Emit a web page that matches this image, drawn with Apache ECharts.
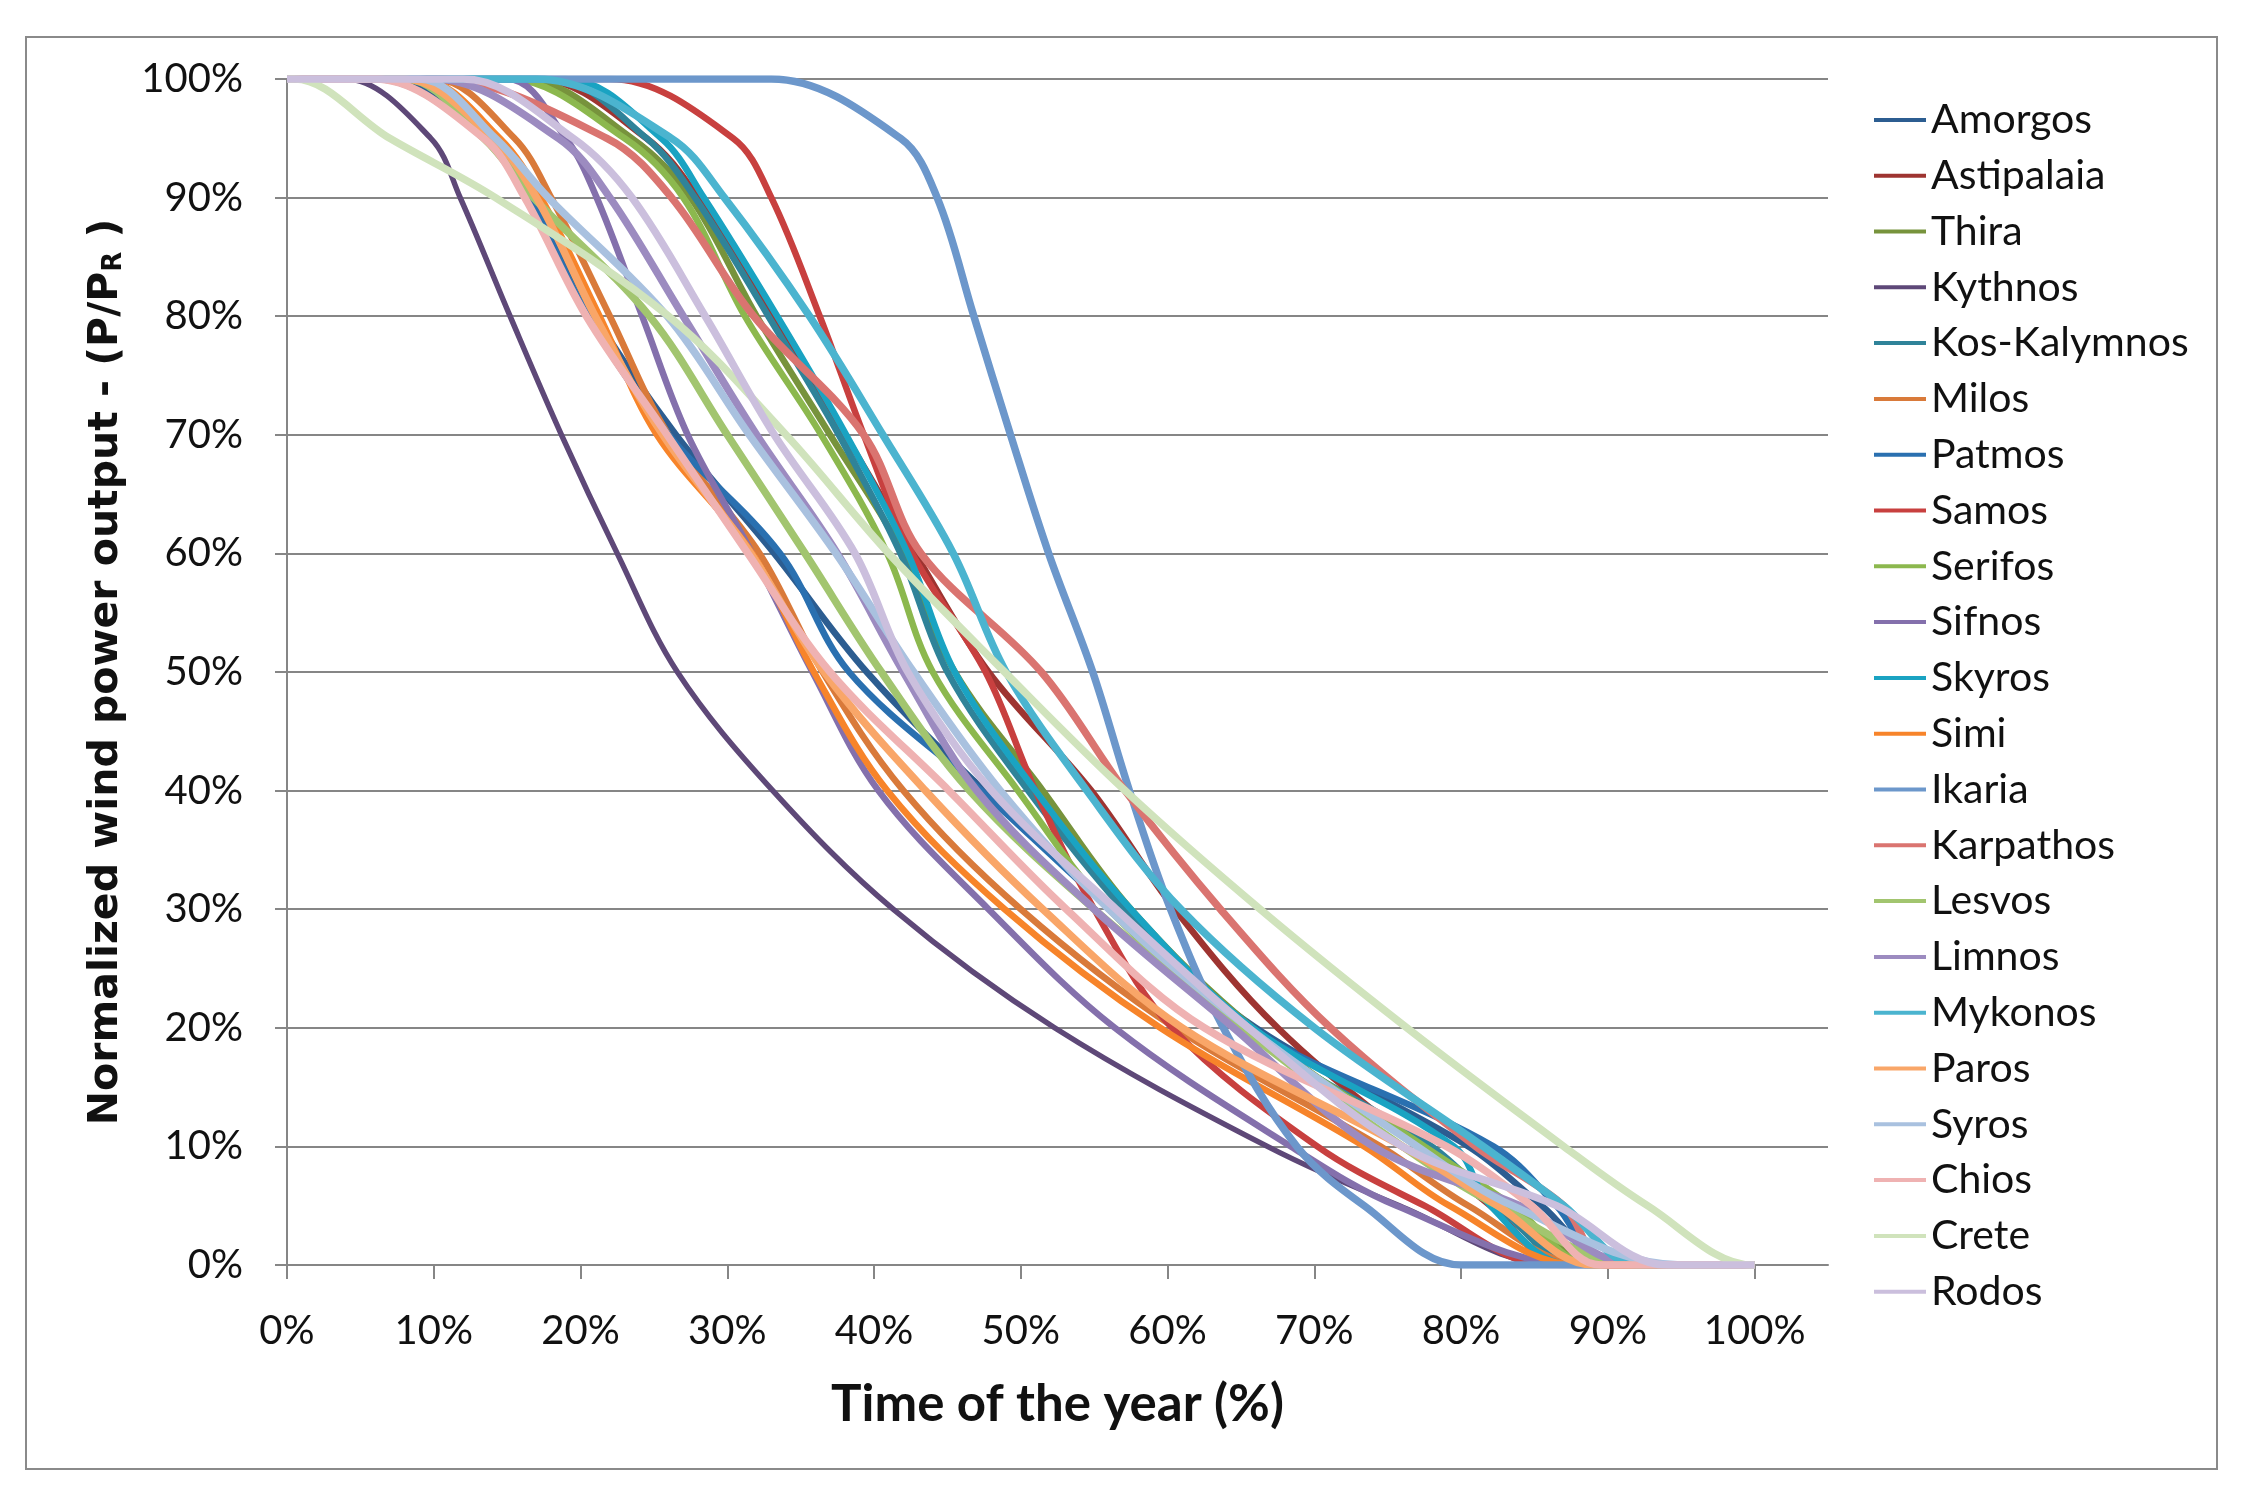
<!DOCTYPE html>
<html>
<head>
<meta charset="utf-8">
<script src="https://cdn.jsdelivr.net/npm/echarts@6/dist/echarts.min.js"></script>
<style>
  html, body { margin: 0; padding: 0; background: #ffffff; }
  #chart { width: 2243px; height: 1494px; }
</style>
</head>
<body>
<div id="chart"></div>
<script>
const LEVELS = [100, 95, 90, 80, 70, 60, 50, 40, 30, 20, 10, 5, 0];
// Time of year (%) at which each island's curve crosses the LEVELS above
const amorgos     = [7, 13.8, 16.8, 21, 26.5, 33.2, 39.5, 47.5, 56.5, 66, 80.5, 85.5, 90.5];
const astipalaia  = [17, 24.5, 28, 33, 38, 42.8, 47.8, 54.8, 60.5, 67.5, 77, 82, 87];
const thira       = [16, 23.5, 27.5, 32, 37, 42, 45.5, 51.5, 57.5, 65.8, 77, 83, 90];
const kythnos     = [4, 9.8, 11.8, 15.2, 18.7, 22.5, 26.6, 33.1, 41.3, 52.3, 66.8, 75.8, 86.5];
const kosKalymnos = [18, 24.5, 27.8, 32.8, 37.6, 41.8, 45, 50.5, 57, 65, 78, 82.5, 88];
const milos       = [10, 15.5, 18, 22, 26, 32.2, 36.5, 42, 50, 60.5, 74.5, 80.5, 88.5];
const patmos      = [6, 13.5, 16.5, 20.5, 26, 33.6, 38.3, 47.3, 56.1, 65.5, 82.2, 86.5, 90];
const samos       = [22, 30.4, 33, 36.3, 39.3, 42.6, 47.6, 51, 55, 60.3, 70.2, 77.5, 86];
const serifos     = [15, 23, 27, 31.2, 36.4, 40.9, 44, 49.8, 56, 65.3, 77.5, 83.5, 89];
const sifnos      = [15, 19, 21.1, 24.2, 27.3, 31.7, 35.8, 40.3, 47.8, 56.4, 68.4, 75.6, 88];
const skyros      = [19, 25.5, 28.4, 33.4, 38.1, 42.3, 45.5, 51, 57.5, 65.8, 79.5, 82, 87.5];
const simi        = [9, 14.5, 17.3, 21.3, 25.2, 31.7, 35.9, 40.9, 48.9, 59.5, 73.4, 79.2, 88];
const ikaria      = [33, 41.8, 44.3, 46.8, 49.3, 51.9, 54.9, 57.4, 60.2, 63.8, 68.8, 73.4, 80];
const karpathos   = [10, 21.8, 26.2, 31.8, 39.3, 43.2, 51.4, 57.1, 63.6, 71.1, 81, 87, 90];
const lesvos      = [8, 13.4, 16.8, 24.7, 30, 35.3, 40.5, 46.5, 55, 65, 76, 82.5, 92];
const limnos      = [10, 18.5, 22, 27, 32, 37.5, 42, 47, 55, 64.5, 74, 84, 92];
const mykonos     = [17, 26.2, 29.8, 35.6, 40.6, 45.4, 49, 54.5, 60.9, 70, 81.5, 87, 92];
const paros       = [8, 14, 17, 21, 25.6, 31.6, 36.6, 43.5, 51.5, 61, 76, 82.5, 89];
const syros       = [9, 14.2, 17.8, 25.9, 31.5, 37.4, 42.7, 48.6, 56, 65.5, 77, 83.5, 95];
const chios       = [6, 13.4, 16.2, 20.4, 25.9, 31.4, 37, 45.1, 53.1, 62.5, 79, 84.8, 89.5];
const crete       = [0.5, 7, 14.2, 26, 34, 41, 48.9, 57.1, 66.3, 76.3, 87, 92.7, 99.8];
const rodos       = [12, 19.5, 23.5, 28.5, 33.2, 38.7, 42.3, 48, 56.5, 65.5, 76, 86.5, 94];

const NAMES = ['Amorgos','Astipalaia','Thira','Kythnos','Kos-Kalymnos','Milos','Patmos','Samos',
  'Serifos','Sifnos','Skyros','Simi','Ikaria','Karpathos','Lesvos','Limnos','Mykonos','Paros',
  'Syros','Chios','Crete','Rodos'];
const SERIES_X = [amorgos, astipalaia, thira, kythnos, kosKalymnos, milos, patmos, samos,
  serifos, sifnos, skyros, simi, ikaria, karpathos, lesvos, limnos, mykonos, paros,
  syros, chios, crete, rodos];
const COLORS = ['#2C5D91','#9E3431','#77933C','#5E4878','#2F8399','#D97A3A','#2A70B0','#C8403F',
  '#8CB84E','#8470AC','#1AA3C2','#F7842A','#6C97CB','#DA7470','#A2C56F','#9C8BC0','#4BB4CF','#F9A668',
  '#A9C1DF','#EFB2B2','#D0E3BC','#CBBFDD'];
const X_TICKS = [0, 10, 20, 30, 40, 50, 60, 70, 80, 90, 100];
const Y_TICKS = [0, 10, 20, 30, 40, 50, 60, 70, 80, 90, 100];

const chart = echarts.init(document.getElementById('chart'));
const GRID = '#868686';
const series = NAMES.map((name, i) => {
  const xs = SERIES_X[i];
  const data = [[0, 100]].concat(LEVELS.map((y, k) => [xs[k], y])).concat([[100, 0]]);
  return {
    name: name,
    type: 'line',
    data: data,
    symbol: 'none',
    showSymbol: false,
    smooth: 0.35,
    color: COLORS[i],
    lineStyle: { color: COLORS[i], width: i >= 12 ? 7.5 : (i === 3 ? 5.5 : 6.5) },
    emphasis: { disabled: true },
    z: 2
  };
});

chart.setOption({
  animation: false,
  backgroundColor: '#ffffff',
  grid: { left: 287, top: 79, width: 1541, height: 1186, containLabel: false },
  legend: {
    orient: 'vertical', left: 1869, top: 87,
    itemWidth: 52, itemHeight: 4, icon: 'rect', itemGap: 0,
    selectedMode: false,
    textStyle: { fontFamily: 'Lato', fontSize: 41, color: '#111111', lineHeight: 55.8 },
    data: NAMES
  },
  xAxis: {
    type: 'value', min: 0, max: 105, interval: 10,
    axisLine: { show: true, lineStyle: { color: GRID, width: 2 } },
    axisTick: { show: true, length: 14, lineStyle: { color: GRID, width: 2 }, customValues: X_TICKS },
    axisLabel: {
      customValues: X_TICKS,
      formatter: v => (v > 100 ? '' : v + '%'),
      fontFamily: 'Lato', fontSize: 40, color: '#111111', margin: 46
    },
    splitLine: { show: false },
    name: 'Time of the year (%)',
    nameLocation: 'middle', nameGap: 114,
    nameTextStyle: { fontFamily: 'Lato', fontWeight: 'bold', fontSize: 51, color: '#111111' }
  },
  yAxis: {
    type: 'value', min: 0, max: 100, interval: 10,
    axisLine: { show: true, lineStyle: { color: GRID, width: 2 } },
    axisTick: { show: true, length: 12, lineStyle: { color: GRID, width: 2 }, customValues: Y_TICKS },
    axisLabel: {
      customValues: Y_TICKS,
      formatter: v => v + '%',
      fontFamily: 'Lato', fontSize: 40, color: '#111111', margin: 44
    },
    splitLine: { show: true, lineStyle: { color: GRID, width: 2 } },
    name: '{a|Normalized wind power output - (P/P}{b|R}{a| )}',
    nameLocation: 'middle', nameGap: 160, nameRotate: 90,
    nameTextStyle: {
      rich: {
        a: { fontFamily: 'DejaVu Sans', fontWeight: 'bold', fontSize: 41, color: '#111111', lineHeight: 48, verticalAlign: 'bottom' },
        b: { fontFamily: 'DejaVu Sans', fontWeight: 'bold', fontSize: 26, color: '#111111', lineHeight: 23, verticalAlign: 'bottom' }
      }
    }
  },
  graphic: [{
    type: 'rect', silent: true, z: -10,
    shape: { x: 26, y: 37, width: 2191, height: 1432 },
    style: { fill: null, stroke: '#8a8a8a', lineWidth: 2 }
  }],
  series: series
});
</script>
</body>
</html>
